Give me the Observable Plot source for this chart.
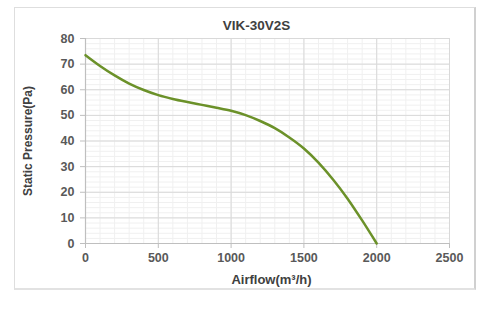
<!DOCTYPE html>
<html>
<head>
<meta charset="utf-8">
<script src="https://cdn.jsdelivr.net/npm/d3@7"></script>
<script src="https://cdn.jsdelivr.net/npm/@observablehq/plot@0.6"></script>
<style>
  html, body { margin: 0; padding: 0; background: #fff; }
  #wrap { position: relative; width: 500px; height: 312px; }
  #box { position: absolute; left: 14px; top: 7px; width: 459px; height: 280px;
         border: 1px solid #dedede; border-right: 2px solid #d0d0d0; border-bottom: 2px solid #e2e2e2; }
  #chart { position: absolute; left: 0; top: 0; }
</style>
</head>
<body>
<div id="wrap"><div id="box"></div><div id="chart"></div></div>
<script>
const title = "VIK-30V2S";
const xLabel = "Airflow(m³/h)";
const yLabel = "Static Pressure(Pa)";
const airflow = [0, 100, 200, 300, 400, 500, 600, 700, 800, 900, 1000, 1100, 1200, 1300, 1400, 1500, 1600, 1700, 1800, 1900, 2000];
const pressure = [73.5, 69.3, 65.6, 62.4, 59.9, 57.9, 56.4, 55.2, 54.1, 53.0, 51.8, 50.1, 47.8, 45.0, 41.4, 37.1, 31.6, 25.0, 17.5, 9.0, 0];
const xTicks = [0, 500, 1000, 1500, 2000, 2500];
const yTicks = [0, 10, 20, 30, 40, 50, 60, 70, 80];

const data = airflow.map((x, i) => ({x, y: pressure[i]}));
const font = "'Liberation Sans', Arial, sans-serif";

const chart = Plot.plot({
  width: 500,
  height: 312,
  marginLeft: 85,
  marginRight: 51,
  marginTop: 38,
  marginBottom: 69,
  style: {fontFamily: font, background: "transparent", overflow: "visible"},
  x: {domain: [0, 2500]},
  y: {domain: [0, 80]},
  marks: [
    Plot.gridX(d3.range(0, 2501, 100), {stroke: "#f0f0f0", strokeOpacity: 1}),
    Plot.gridY(d3.range(0, 81, 2), {stroke: "#f0f0f0", strokeOpacity: 1}),
    Plot.gridX(xTicks, {stroke: "#d9d9d9", strokeOpacity: 1}),
    Plot.gridY(yTicks, {stroke: "#d9d9d9", strokeOpacity: 1}),
    Plot.axisX(xTicks, {tickSize: 5, tickPadding: 5, tickFormat: d => String(d), stroke: "#bfbfbf", fill: "#595959", fontSize: 12.5, fontWeight: "bold", label: null}),
    Plot.axisY(yTicks, {tickSize: 5, tickPadding: 6, tickFormat: d => String(d), stroke: "#bfbfbf", fill: "#595959", fontSize: 12.5, fontWeight: "bold", label: null}),
    Plot.ruleX([0], {stroke: "#bfbfbf", strokeWidth: 1.2}),
    Plot.ruleY([0], {stroke: "#bfbfbf", strokeWidth: 1.2}),
    Plot.line(data, {x: "x", y: "y", curve: "monotone-x", stroke: "#6b9129", strokeWidth: 2.5}),
    Plot.text([title], {frameAnchor: "top", dx: -11, dy: -13, fontSize: 13.5, fontWeight: "bold", fill: "#404040", lineAnchor: "middle"}),
    Plot.text([xLabel], {frameAnchor: "bottom", dx: 4, dy: 36, fontSize: 13, fontWeight: "bold", fill: "#404040", lineAnchor: "middle"}),
    Plot.text([yLabel], {frameAnchor: "left", dx: -57, dy: 0, rotate: -90, textAnchor: "middle", fontSize: 12, fontWeight: "bold", fill: "#404040", lineAnchor: "middle"})
  ]
});
document.getElementById("chart").appendChild(chart);
</script>
</body>
</html>
